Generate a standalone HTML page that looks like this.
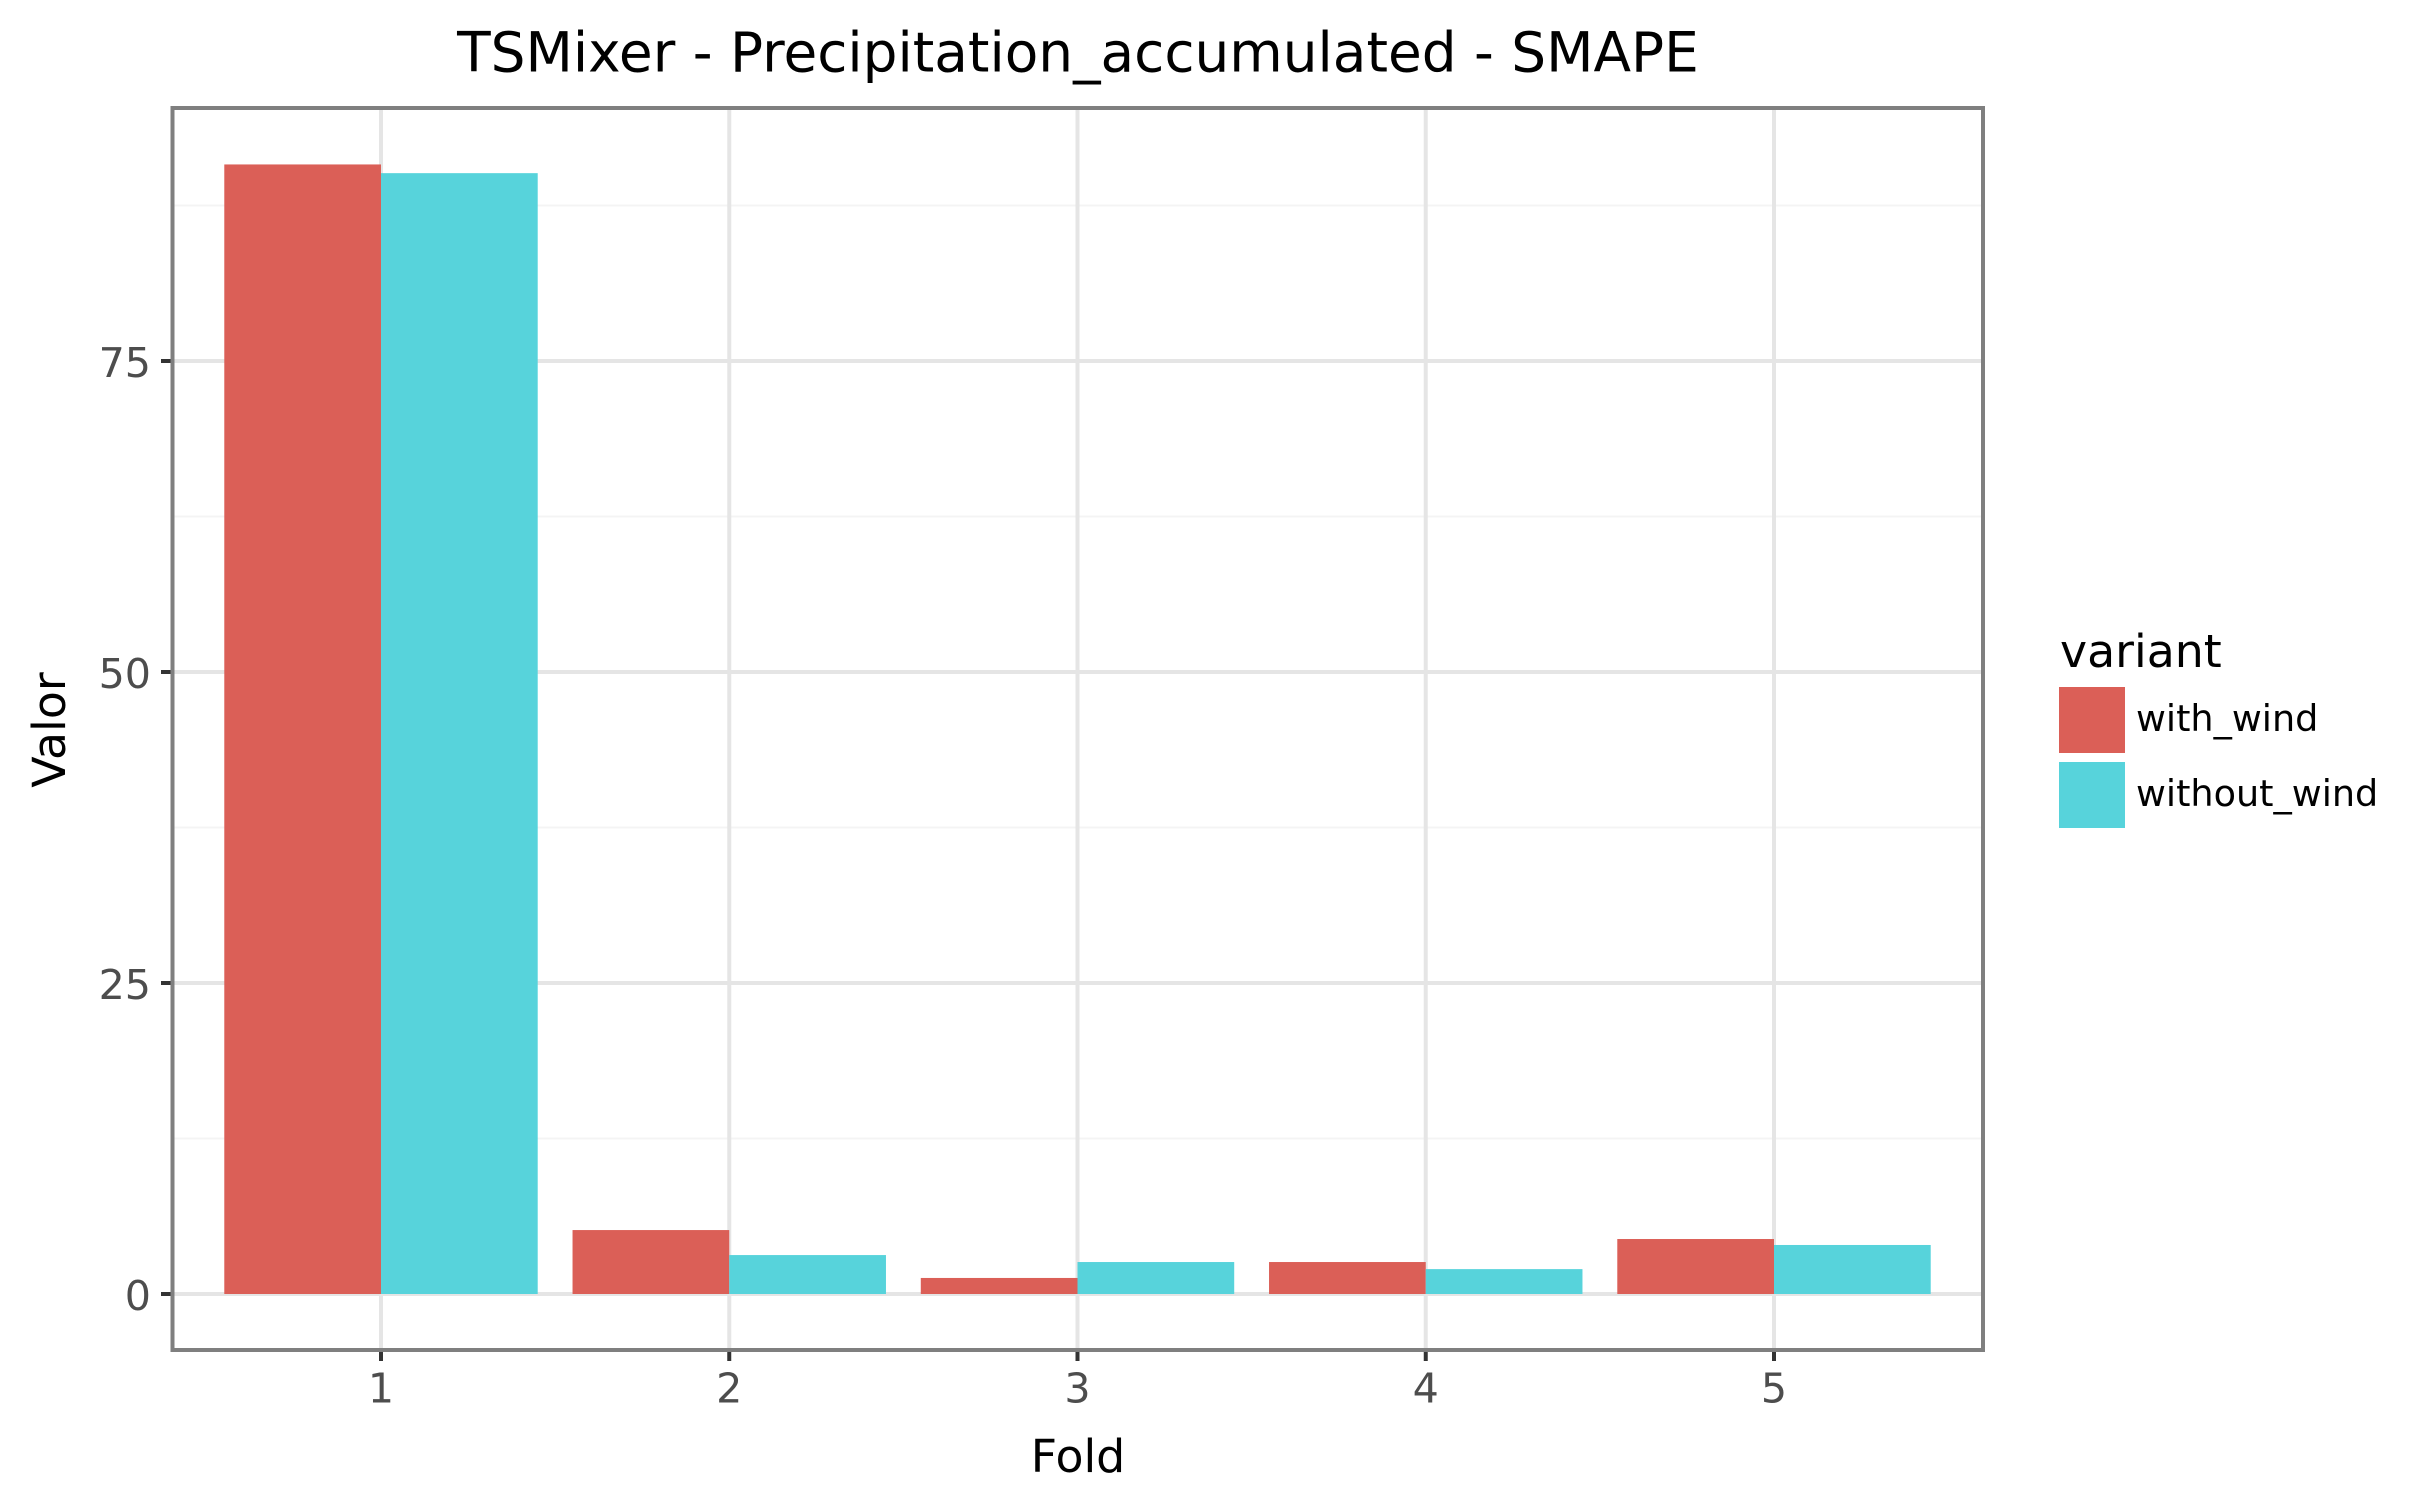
<!DOCTYPE html>
<html lang="en">
<head>
<meta charset="utf-8">
<title>TSMixer - Precipitation_accumulated - SMAPE</title>
<style>
html,body{margin:0;padding:0;background:#fff;}
svg{display:block;font-family:"DejaVu Sans","Liberation Sans",sans-serif;}
</style>
</head>
<body>
<svg id="chart" xmlns="http://www.w3.org/2000/svg" width="2411" height="1511" viewBox="0 0 2411 1511">
  <rect x="0" y="0" width="2411" height="1511" fill="#ffffff"/>
  <g id="grid"></g>
  <g id="bars"></g>
  <rect x="172.5" y="108" width="1810.5" height="1242" fill="none" stroke="#7f7f7f" stroke-width="4"/>
  <g id="axes"></g>
  <text x="1078" y="71.5" font-size="54.9" text-anchor="middle" fill="#000000">TSMixer - Precipitation_accumulated - SMAPE</text>
  <text x="1078" y="1472" font-size="45.8" text-anchor="middle" fill="#000000">Fold</text>
  <text x="65" y="730" font-size="45.8" text-anchor="middle" fill="#000000" transform="rotate(-90 65 730)">Valor</text>
  <g>
    <text x="2060" y="667" font-size="45.8" fill="#000000">variant</text>
    <rect x="2059" y="687" width="66" height="66" fill="#DB5F57"/>
    <text x="2136" y="731" font-size="36.6" fill="#000000">with_wind</text>
    <rect x="2059" y="762" width="66" height="66" fill="#57D3DB"/>
    <text x="2136" y="806" font-size="36.6" fill="#000000">without_wind</text>
  </g>
</svg>
<script>
const folds = [1, 2, 3, 4, 5];
const withWind = [90.8, 5.14, 1.29, 2.57, 4.42];
const withoutWind = [90.1, 3.13, 2.57, 2.0, 3.94];
const yTicks = [0, 25, 50, 75];
const yMinorTicks = [12.5, 37.5, 62.5, 87.5];
const seriesFill = { withWind: '#DB5F57', withoutWind: '#57D3DB' };

const NS = 'http://www.w3.org/2000/svg';
const panelLeft = 172.5, panelRight = 1983, panelTop = 108, panelBottom = 1350;
function xScale(f) { return 381 + (f - 1) * 348.25; }
function yScale(v) { return 1294 - v * 12.44; }
const barWidth = 0.45 * 348.25;

function make(tag, attrs) {
  const el = document.createElementNS(NS, tag);
  for (const k in attrs) el.setAttribute(k, attrs[k]);
  return el;
}
const grid = document.getElementById('grid');
const barsG = document.getElementById('bars');
const axes = document.getElementById('axes');

yMinorTicks.forEach(function (v) {
  const el = make('line', { x1: panelLeft, x2: panelRight, y1: yScale(v), y2: yScale(v), stroke: '#f4f4f4', 'stroke-width': 2 });
  
  
  grid.appendChild(el);
});
yTicks.forEach(function (v) {
  const el = make('line', { x1: panelLeft, x2: panelRight, y1: yScale(v), y2: yScale(v), stroke: '#e5e5e5', 'stroke-width': 4 });
  
  
  grid.appendChild(el);
});
folds.forEach(function (f) {
  const el = make('line', { x1: xScale(f), x2: xScale(f), y1: panelTop, y2: panelBottom, stroke: '#e5e5e5', 'stroke-width': 4 });
  
  
  grid.appendChild(el);
});

folds.forEach(function (f, i) {
  const a = make('rect', { x: xScale(f) - barWidth, y: yScale(withWind[i]), width: barWidth, height: yScale(0) - yScale(withWind[i]), fill: seriesFill.withWind });
  
  
  barsG.appendChild(a);
  const b = make('rect', { x: xScale(f), y: yScale(withoutWind[i]), width: barWidth, height: yScale(0) - yScale(withoutWind[i]), fill: seriesFill.withoutWind });
  
  
  barsG.appendChild(b);
});

yTicks.forEach(function (v) {
  const t = make('line', { x1: 161, x2: 170.5, y1: yScale(v), y2: yScale(v), stroke: '#333333', 'stroke-width': 4 });
  
  
  axes.appendChild(t);
  const l = make('text', { x: 151, y: yScale(v) + 16, 'font-size': 41.2, 'text-anchor': 'end', fill: '#4d4d4d' });
  
  
  l.textContent = String(v);
  axes.appendChild(l);
});
folds.forEach(function (f) {
  const t = make('line', { x1: xScale(f), x2: xScale(f), y1: 1352, y2: 1361, stroke: '#333333', 'stroke-width': 4 });
  
  
  axes.appendChild(t);
  const l = make('text', { x: xScale(f), y: 1402.5, 'font-size': 41.2, 'text-anchor': 'middle', fill: '#4d4d4d' });
  
  
  l.textContent = String(f);
  axes.appendChild(l);
});
</script>
</body>
</html>
